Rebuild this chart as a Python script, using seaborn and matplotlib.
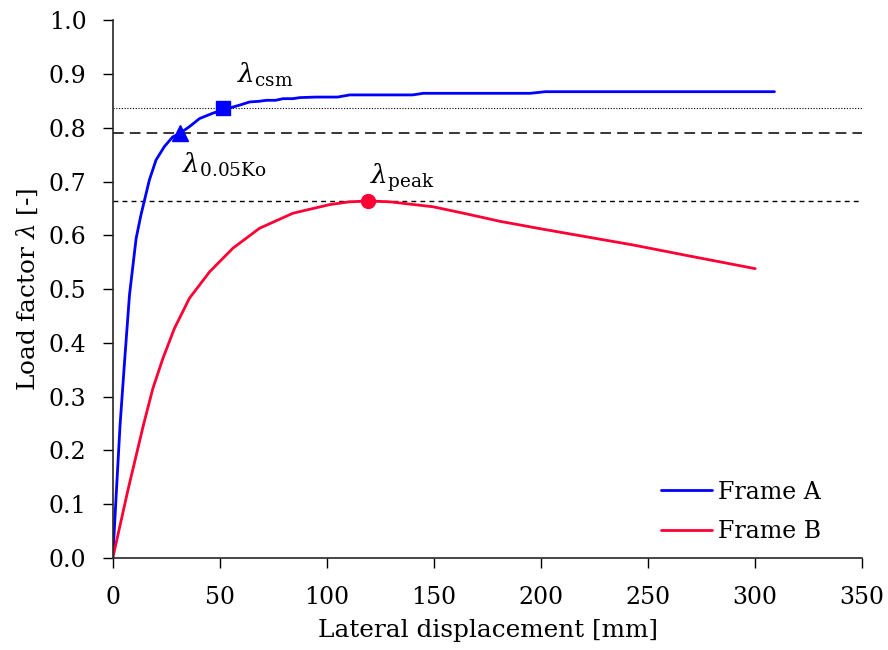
import pandas as pd
import matplotlib
matplotlib.use("Agg")
import matplotlib.pyplot as plt
import seaborn as sns

# Frame A: load-displacement curve
disp_a = [0, 1.7, 3.4, 5.5, 7.8, 10.9, 13, 14.8, 17.1, 20.2, 24.1, 28, 31.1, 35.8, 40.5,
          46.7, 52.2, 59.2, 64, 68, 71.8, 76, 79.5, 84, 87.4, 95, 105, 110.7, 120, 134,
          140, 145, 170, 195, 202, 250, 309]
lam_a = [0, 0.125, 0.247, 0.365, 0.489, 0.594, 0.635, 0.665, 0.703, 0.74, 0.765, 0.783,
         0.789, 0.802, 0.817, 0.827, 0.834, 0.842, 0.848, 0.849, 0.851, 0.851, 0.854,
         0.854, 0.856, 0.857, 0.857, 0.861, 0.861, 0.861, 0.861, 0.864, 0.864, 0.864,
         0.867, 0.867, 0.867]

# Frame B
disp_b = [0, 7, 14.3, 18.7, 23.4, 28.8, 35.8, 45.2, 56.1, 68.5, 84.1, 101.2, 110, 119.3,
          130, 149.6, 165, 180.8, 200, 243, 270, 300]
lam_b = [0, 0.125, 0.247, 0.315, 0.371, 0.427, 0.483, 0.532, 0.576, 0.613, 0.641, 0.657,
         0.662, 0.664, 0.662, 0.653, 0.640, 0.626, 0.612, 0.582, 0.561, 0.538]

# characteristic points and reference levels
pt_005 = (31.3, 0.79)
pt_csm = (51.4, 0.836)
pt_peak = (119.3, 0.664)
lvl_dotted = 0.836
lvl_dashed = 0.79
lvl_peak = 0.664

df = pd.concat([
    pd.DataFrame({"disp": disp_a, "lam": lam_a, "frame": "Frame A"}),
    pd.DataFrame({"disp": disp_b, "lam": lam_b, "frame": "Frame B"}),
])

sns.set_theme(style="ticks")
plt.rcParams["font.family"] = ["DejaVu Serif"]
plt.rcParams["mathtext.fontset"] = "dejavuserif"
plt.rcParams["text.color"] = "black"
plt.rcParams["axes.labelcolor"] = "black"
plt.rcParams["xtick.color"] = "black"
plt.rcParams["ytick.color"] = "black"

fig = plt.figure(figsize=(8.88, 6.5), dpi=100)
ax = fig.add_axes([0.127, 0.1415, 0.844, 0.8275])

colors = {"Frame A": "#0000FF", "Frame B": "#FF0035"}
sns.lineplot(data=df, x="disp", y="lam", hue="frame", palette=colors, sort=False,
             estimator=None, linewidth=2.0, ax=ax)
for ln in ax.get_lines():
    ln.set_solid_joinstyle("round")

ax.axhline(lvl_dotted, color="black", linestyle=(0, (1, 1.5)), linewidth=0.8, zorder=1)
ax.axhline(lvl_dashed, color="black", linestyle=(0, (7, 4)), linewidth=1.1, zorder=1)
ax.axhline(lvl_peak, color="black", linestyle=(0, (3.5, 3)), linewidth=1.0, zorder=1)

ax.plot(*pt_005, marker="^", color="#0000FF", markersize=11, zorder=5)
ax.plot(*pt_csm, marker="s", color="#0000FF", markersize=10, zorder=5)
ax.plot(*pt_peak, marker="o", color="#FF0035", markersize=10, zorder=5)

ax.text(58, 0.883, r"$\lambda_{\rm csm}$", fontsize=19)
ax.text(32.5, 0.716, r"$\lambda_{\rm 0.05Ko}$", fontsize=19)
ax.text(120, 0.696, r"$\lambda_{\rm peak}$", fontsize=19)

ax.set_xlim(0, 350)
ax.set_ylim(0, 1.0)
ax.set_xticks(range(0, 351, 50))
ax.set_yticks([i / 10 for i in range(11)])
ax.set_yticklabels([f"{i / 10:.1f}" for i in range(11)])
ax.tick_params(labelsize=17, length=7, width=1, direction="out")
ax.tick_params(axis="y", pad=12)
ax.tick_params(axis="x", pad=13)
ax.set_xlabel("Lateral displacement [mm]", fontsize=17.8, labelpad=7)
ax.set_ylabel(r"Load factor $\lambda$ [-]", fontsize=17.8, labelpad=6)
sns.despine(ax=ax)
for sp in ax.spines.values():
    sp.set_linewidth(1.2)

ax.legend(loc="lower right", frameon=False, fontsize=17, handlelength=2.2,
          handletextpad=0.25, bbox_to_anchor=(0.974, -0.012), labelspacing=0.7)

fig.savefig("out.png", dpi=100)
